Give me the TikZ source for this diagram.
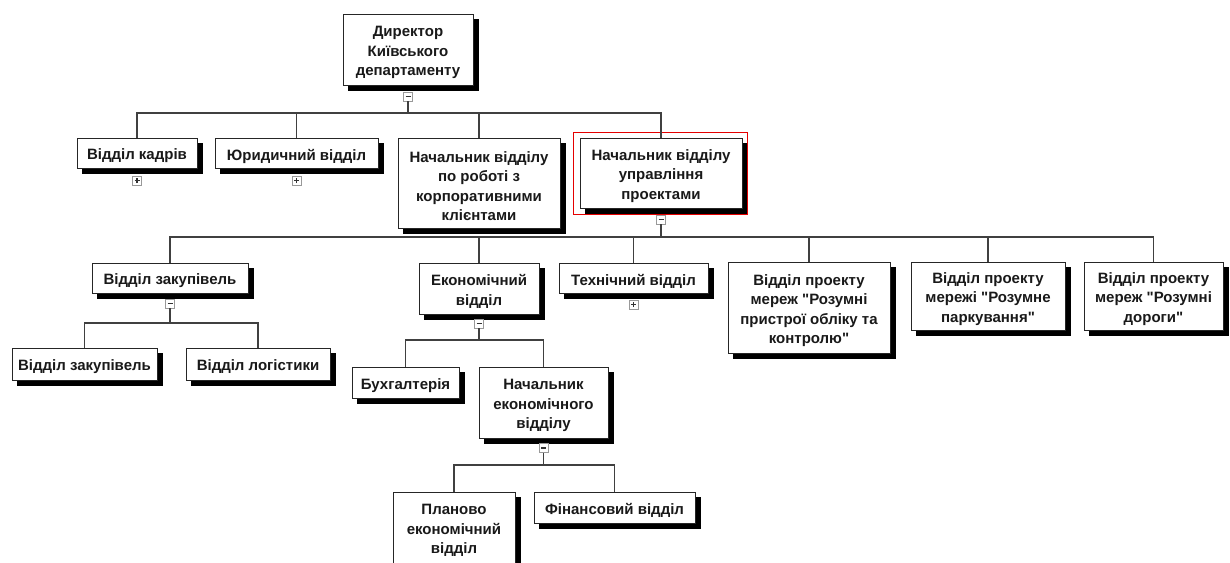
\documentclass[tikz,border=0pt]{standalone}
\usepackage{fontspec}
\setmainfont{Liberation Sans}
\usetikzlibrary{backgrounds,calc}
% straight double quote, set as a glyph so the TeX text mapping leaves it alone
\newcommand\qmark{\XeTeXglyph\XeTeXcharglyph"22\relax}
\begin{document}
\begin{tikzpicture}[x=1pt,y=-1pt,
  unit/.style={draw=black!85, line width=1pt, fill=white, inner sep=0pt},
  txt/.style={align=center, inner sep=0pt, yshift=-3pt,
    font=\bfseries\fontsize{15}{19.5}\selectfont, text=black!90},
  caption/.style={label={[txt]center:{#1}}},
  sz/.style n args={2}{minimum width=#1, minimum height=#2},
  link/.style={draw=black!75, line width=1.3pt},
  toggle/.style={draw=black!40, fill=white, line width=0.8pt, minimum size=9pt, inner sep=0pt},
  minusmark/.style={toggle, path picture={
    \draw[black!80, line width=1.2pt]
      ([xshift=-2.5pt]path picture bounding box.center) -- ([xshift=2.5pt]path picture bounding box.center);}},
  plusmark/.style={toggle, path picture={
    \draw[black!80, line width=1.2pt]
      ([xshift=-2.5pt]path picture bounding box.center) -- ([xshift=2.5pt]path picture bounding box.center)
      ([yshift=-2.5pt]path picture bounding box.center) -- ([yshift=2.5pt]path picture bounding box.center);}},
  selection/.style={draw=red!90!black, line width=0.9pt}
]
\useasboundingbox (0,0) rectangle (1230,562);

% units
\node[unit, sz={130pt}{71pt}, caption={Директор\\Київського\\департаменту}] (dir) at (408,49.5) {};

\node[unit, sz={120pt}{30pt}, caption={Відділ кадрів}] (kadr) at (137,153) {};
\node[unit, sz={163pt}{30pt}, caption={Юридичний відділ}] (yur) at (296.5,153) {};
\node[unit, sz={162pt}{90pt}, caption={Начальник відділу\\по роботі з\\корпоративними\\клієнтами}] (korp) at (479,183) {};
\node[unit, sz={162pt}{70pt}, caption={Начальник відділу\\управління\\проектами}] (upr) at (661,173) {};

\node[unit, sz={156pt}{30pt}, caption={Відділ закупівель}] (zak) at (170,278) {};
\node[unit, sz={120pt}{51pt}, caption={Економічний\\відділ}] (ekon) at (479,288.5) {};
\node[unit, sz={149pt}{30pt}, caption={Технічний відділ}] (tech) at (633.5,278) {};
\node[unit, sz={162pt}{91pt}, caption={Відділ проекту\\мереж \qmark Розумні\\пристрої обліку та\\контролю\qmark}] (smart) at (809,307.5) {};
\node[unit, sz={154pt}{68pt}, caption={Відділ проекту\\мережі \qmark Розумне\\паркування\qmark}] (park) at (988,296) {};
\node[unit, sz={139pt}{68pt}, caption={Відділ проекту\\мереж \qmark Розумні\\дороги\qmark}] (road) at (1153.5,296) {};

\node[unit, sz={145pt}{32pt}, caption={Відділ закупівель}] (zak2) at (84.5,364) {};
\node[unit, sz={144pt}{32pt}, caption={Відділ логістики}] (log) at (258,364) {};

\node[unit, sz={107pt}{31pt}, caption={Бухгалтерія}] (buh) at (405.5,382.5) {};
\node[unit, sz={129pt}{71pt}, caption={Начальник\\економічного\\відділу}] (nachek) at (543.5,402.5) {};

\node[unit, sz={122pt}{71pt}, caption={Планово\\економічний\\відділ}] (plan) at (454,527.5) {};
\node[unit, sz={161pt}{31pt}, caption={Фінансовий відділ}] (fin) at (614.5,507.5) {};

% page ground and drop shadows
\begin{scope}[on background layer]
  \fill[white] (0,0) rectangle (1230,562);
  \foreach \n in {dir,kadr,yur,korp,upr,zak,ekon,tech,smart,park,road,zak2,log,buh,nachek,plan,fin}
    \fill[black] ([shift={(5,5)}]\n.north west) rectangle ([shift={(5,5)}]\n.south east);
\end{scope}

% selection frame
\draw[selection] ([shift={(-6,-5)}]upr.north west) rectangle ([shift={(5,6)}]upr.south east);

% expand / collapse toggles
\node[minusmark] (tdir) at ([yshift=-11pt]dir.south) {};
\node[plusmark] (tkadr) at ([yshift=-12pt]kadr.south) {};
\node[plusmark] (tyur) at ([yshift=-12pt]yur.south) {};
\node[minusmark] (tupr) at ([yshift=-11pt]upr.south) {};
\node[minusmark] (tzak) at ([yshift=-10pt]zak.south) {};
\node[minusmark] (tekon) at ([yshift=-9pt]ekon.south) {};
\node[plusmark] (ttech) at ([yshift=-11pt]tech.south) {};
\node[minusmark] (tnachek) at ([yshift=-9.5pt]nachek.south) {};

% connectors
\coordinate (bus0) at (408,113);
\draw[link] (tdir.south) -- (bus0);
\foreach \c in {kadr,yur,korp,upr} \draw[link] (bus0) -| (\c.north);

\coordinate (bus1) at (661,237);
\draw[link] (tupr.south) -- (bus1);
\foreach \c in {zak,ekon,tech,smart,park,road} \draw[link] (bus1) -| (\c.north);

\coordinate (bus2) at (170,323);
\draw[link] (tzak.south) -- (bus2);
\foreach \c in {zak2,log} \draw[link] (bus2) -| (\c.north);

\coordinate (bus3) at (479,340);
\draw[link] (tekon.south) -- (bus3);
\foreach \c in {buh,nachek} \draw[link] (bus3) -| (\c.north);

\coordinate (bus4) at (543.5,465);
\draw[link] (tnachek.south) -- (bus4);
\foreach \c in {plan,fin} \draw[link] (bus4) -| (\c.north);
\end{tikzpicture}
\end{document}
